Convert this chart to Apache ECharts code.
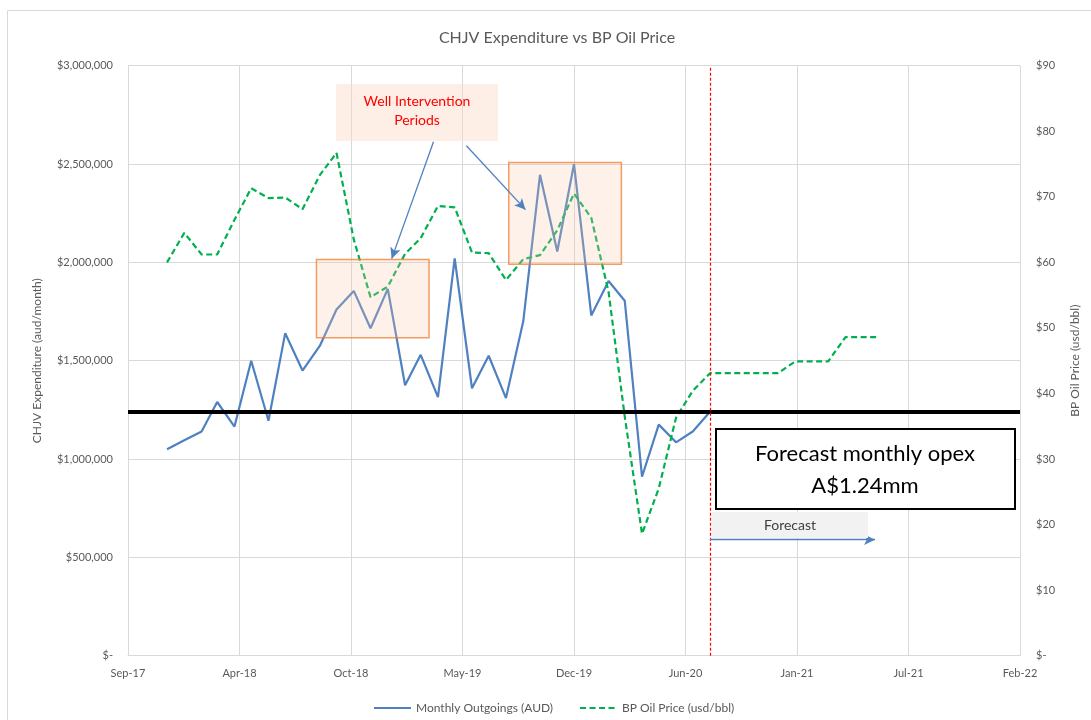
<!DOCTYPE html>
<html>
<head>
<meta charset="utf-8">
<script src="https://cdn.jsdelivr.net/npm/echarts@6/dist/echarts.min.js"></script>
<style>
  html, body { margin: 0; padding: 0; background: #ffffff; }
  #chart { width: 1091px; height: 720px; }
</style>
</head>
<body>
<div id="chart"></div>
<script>
// Month of each observation (first of month)
const months = [
  '2017-12','2018-01','2018-02','2018-03','2018-04','2018-05','2018-06','2018-07','2018-08','2018-09','2018-10','2018-11',
  '2018-12','2019-01','2019-02','2019-03','2019-04','2019-05','2019-06','2019-07','2019-08','2019-09','2019-10','2019-11',
  '2019-12','2020-01','2020-02','2020-03','2020-04','2020-05','2020-06','2020-07','2020-08','2020-09','2020-10','2020-11',
  '2020-12','2021-01','2021-02','2021-03','2021-04','2021-05','2021-06'
];

// Monthly outgoings (AUD), Dec-17 .. Aug-20
const outgoings = [
  1050000, 1095000, 1140000, 1290000, 1165000, 1500000, 1195000, 1640000, 1450000, 1575000, 1760000, 1855000,
  1665000, 1865000, 1375000, 1530000, 1315000, 2020000, 1360000, 1525000, 1310000, 1700000, 2445000, 2055000,
  2500000, 1730000, 1905000, 1805000, 910000, 1175000, 1085000, 1140000, 1240000
];

// BP oil price (usd/bbl), Dec-17 .. Jun-21 (forecast from Aug-20)
const oilPrice = [
  60.0, 64.5, 61.2, 61.2, 66.5, 71.3, 69.8, 69.9, 68.1, 73.3, 76.7, 63.5,
  54.7, 56.3, 61.3, 63.7, 68.6, 68.4, 61.5, 61.4, 57.3, 60.5, 61.1, 64.9,
  70.5, 66.8, 55.5, 36.5, 18.6, 25.5, 36.3, 40.4, 43.1, 43.1, 43.1, 43.1,
  43.1, 44.9, 44.9, 44.9, 48.6, 48.6, 48.6
];

// Date-axis tick labels (every 200 days from 22-Sep-2017)
const xTickLabels = ['Sep-17','Apr-18','Oct-18','May-19','Dec-19','Jun-20','Jan-21','Jul-21','Feb-22'];
const forecastMonth = '2020-08';
const forecastOpex = 1240000;

// Intervention periods: [start date, end date, high, low]
const interventionAreas = [
  ['2018-08-26', '2019-03-16', 2014000, 1617000],
  ['2019-08-06', '2020-02-24', 2508000, 1990000]
];
// Callout arrows: [from date, from value, to date, to value]
const calloutArrows = [
  ['2019-03-24', 2613000, '2019-01-08', 2019000],
  ['2019-05-22', 2593000, '2019-09-05', 2268000],
  ['2020-08-01', 590000, '2021-05-24', 590000]
];

// Spreadsheet-style day serial (1899-12-30 epoch)
function toSerial(s) {
  const p = s.split('-').map(Number);
  return Date.UTC(p[0], p[1] - 1, p[2] || 1) / 86400000 + 25569;
}

const X_MIN = 43000, X_MAX = 44600, X_STEP = 200;
const FONT = 'Lato, "Open Sans", sans-serif';
const GREY = '#595959';
const BLUE = '#4F81C0';
const GREEN = '#00B050';

const outgoingData = outgoings.map((v, i) => [toSerial(months[i]), v]);
const oilData = oilPrice.map((v, i) => [toSerial(months[i]), v]);

const chart = echarts.init(document.getElementById('chart'), null, { renderer: 'canvas' });

chart.setOption({
  animation: false,
  backgroundColor: '#ffffff',
  textStyle: { fontFamily: FONT },
  title: {
    text: 'CHJV Expenditure vs BP Oil Price',
    left: 552,
    textAlign: 'center',
    top: 25,
    textStyle: { fontFamily: FONT, fontSize: 16, fontWeight: 'normal', color: GREY }
  },
  legend: {
    data: ['Monthly Outgoings (AUD)', 'BP Oil Price (usd/bbl)'],
    left: 368,
    top: 697,
    itemWidth: 37,
    itemHeight: 10,
    itemGap: 26,
    itemStyle: { opacity: 0 },
    textStyle: { fontFamily: FONT, fontSize: 12, color: GREY }
  },
  grid: {
    left: 128, right: 71, top: 65.7, bottom: 64.3,
    containLabel: false,
    outerBoundsMode: 'none'
  },
  xAxis: {
    type: 'value',
    min: X_MIN, max: X_MAX, interval: X_STEP,
    axisLine: { show: true, lineStyle: { color: '#D9D9D9', width: 1 } },
    axisTick: { show: false },
    splitLine: { show: true, lineStyle: { color: '#D9D9D9', width: 1 } },
    axisLabel: {
      margin: 12,
      color: GREY, fontFamily: FONT, fontSize: 11,
      formatter: v => xTickLabels[Math.round((v - X_MIN) / X_STEP)] || ''
    }
  },
  yAxis: [
    {
      type: 'value',
      min: 0, max: 3000000, interval: 500000,
      name: 'CHJV Expenditure (aud/month)',
      nameLocation: 'middle',
      nameGap: 85,
      nameTextStyle: { fontFamily: FONT, fontSize: 12, color: GREY },
      axisLine: { show: false },
      axisTick: { show: false },
      splitLine: { show: true, lineStyle: { color: '#D9D9D9', width: 1 } },
      axisLabel: {
        margin: 15,
        color: GREY, fontFamily: FONT, fontSize: 11,
        formatter: v => v === 0 ? '$-' : '$' + v.toLocaleString('en-US')
      }
    },
    {
      type: 'value',
      position: 'right',
      min: 0, max: 90, interval: 10,
      name: 'BP Oil Price (usd/bbl)',
      nameLocation: 'middle',
      nameGap: 49,
      nameTextStyle: { fontFamily: FONT, fontSize: 12, color: GREY },
      axisLine: { show: false },
      axisTick: { show: false },
      splitLine: { show: false },
      axisLabel: {
        margin: 16,
        color: GREY, fontFamily: FONT, fontSize: 11,
        formatter: v => v === 0 ? '$-' : '$' + v
      }
    }
  ],
  series: [
    {
      name: 'Monthly Outgoings (AUD)',
      type: 'line',
      yAxisIndex: 0,
      data: outgoingData,
      symbol: 'none',
      color: BLUE,
      lineStyle: { color: BLUE, width: 2.2 },
      z: 3,
      markLine: {
        silent: true,
        symbol: ['none', 'none'],
        label: { show: false },
        data: [
          { yAxis: forecastOpex, lineStyle: { color: '#000000', width: 4, type: 'solid' } },
          { xAxis: toSerial(forecastMonth), lineStyle: { color: '#FF0000', width: 1.2, type: [3, 2] } }
        ].concat(calloutArrows.map(a => [
          { coord: [toSerial(a[0]), a[1]], symbol: 'none', lineStyle: { color: '#4F81C0', width: 1.3, type: 'solid' } },
          { coord: [toSerial(a[2]), a[3]], symbol: 'arrow', symbolSize: [8, 11] }
        ]))
      },
      markArea: {
        silent: true,
        z: 4,
        label: { show: false },
        itemStyle: {
          color: 'rgba(247,199,167,0.25)',
          borderColor: 'rgba(237,125,49,0.75)',
          borderWidth: 1.5
        },
        data: interventionAreas.map(a => [
          { coord: [toSerial(a[0]), a[2]] },
          { coord: [toSerial(a[1]), a[3]] }
        ])
      }
    },
    {
      name: 'BP Oil Price (usd/bbl)',
      type: 'line',
      yAxisIndex: 1,
      data: oilData,
      symbol: 'none',
      color: GREEN,
      lineStyle: { color: GREEN, width: 2.2, type: [6, 3.5] },
      z: 3
    }
  ],
  graphic: [
    {
      type: 'rect', z: 0, silent: true,
      shape: { x: 7.5, y: 10.5, width: 1200, height: 1000 },
      style: { fill: 'none', stroke: '#D9D9D9', lineWidth: 1 }
    },
    {
      type: 'rect', z: 100, silent: true,
      shape: { x: 336, y: 84, width: 162, height: 57 },
      style: { fill: 'rgba(250,220,200,0.45)' }
    },
    {
      type: 'text', z: 101, silent: true,
      x: 417, y: 111,
      style: {
        text: 'Well Intervention\nPeriods',
        font: '14px ' + FONT, fill: '#FF0000',
        align: 'center', verticalAlign: 'middle', lineHeight: 19
      }
    },
    {
      type: 'rect', z: 100, silent: true,
      shape: { x: 716, y: 429, width: 299, height: 80 },
      style: { fill: '#ffffff', stroke: '#000000', lineWidth: 2 }
    },
    {
      type: 'text', z: 101, silent: true,
      x: 865, y: 470,
      style: {
        text: 'Forecast monthly opex\nA$1.24mm',
        font: '22px ' + FONT, fill: '#000000',
        align: 'center', verticalAlign: 'middle', lineHeight: 32
      }
    },
    {
      type: 'rect', z: 100, silent: true,
      shape: { x: 712, y: 512, width: 156, height: 26 },
      style: { fill: '#F2F2F2' }
    },
    {
      type: 'text', z: 101, silent: true,
      x: 790, y: 525,
      style: {
        text: 'Forecast',
        font: '14px ' + FONT, fill: '#404040',
        align: 'center', verticalAlign: 'middle'
      }
    }
  ]
});
</script>
</body>
</html>
